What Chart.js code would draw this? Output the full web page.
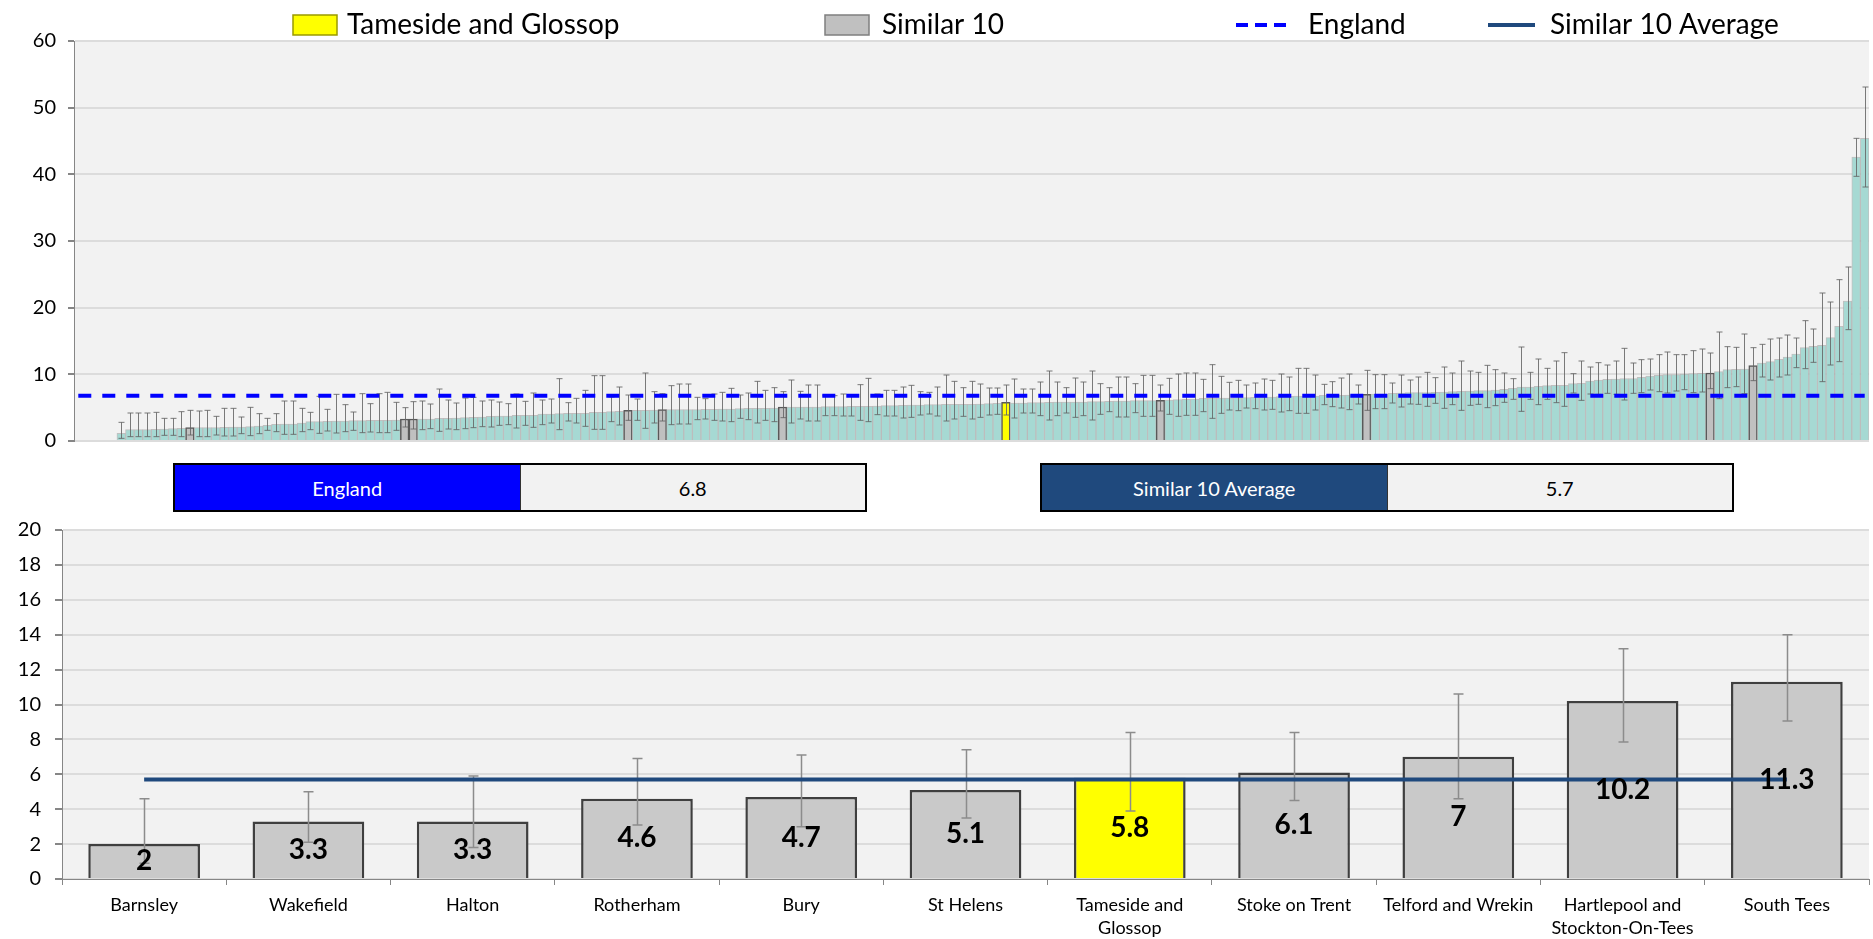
<!DOCTYPE html>
<html lang="en">

<head>
    <meta charset="UTF-8">
    <title>Tameside and Glossop - Similar 10 comparison</title>
    <style>
        body {
            margin: 0;
            background: #fff;
            font-family: Lato, "Open Sans", sans-serif;
        }

        #page {
            position: relative;
            width: 1873px;
            height: 939px;
            overflow: hidden;
        }

        #allWrap {
            position: absolute;
            left: 0;
            top: 0;
            width: 1873px;
            height: 455px;
        }

        #simWrap {
            position: absolute;
            left: 0;
            top: 515px;
            width: 1873px;
            height: 424px;
        }

        .stat {
            position: absolute;
            top: 463px;
            width: 694px;
            height: 49px;
            display: flex;
            border: 2px solid #000;
            box-sizing: border-box;
        }

        .stat div {
            flex: 1;
            display: flex;
            align-items: center;
            justify-content: center;
            font-size: 20px;
        }

        .stat .name {
            color: #fff;
        }

        .stat .num {
            background: #f2f2f2;
            color: #000;
            border-left: 1px solid #333;
        }
    </style>
    <script src="https://cdn.jsdelivr.net/npm/chart.js"></script>
</head>

<body>
    <div id="page">
        <div id="allWrap"><canvas id="allChart"></canvas></div>
        <div class="stat" style="left:173px">
            <div class="name" style="background:#0000ff">England</div>
            <div class="num" id="englandNum"></div>
        </div>
        <div class="stat" style="left:1040px">
            <div class="name" style="background:#1f497d">Similar 10 Average</div>
            <div class="num" id="avgNum"></div>
        </div>
        <div id="simWrap"><canvas id="simChart"></canvas></div>
    </div>

    <script>
        // all CCGs, sorted (first 5 have no value)
        const ccgValues = [
            null, null, null, null, null,
            1.15, 1.7, 1.7, 1.7, 1.75, 1.8, 1.85, 1.9, 2.0, 2.0,
            2.0, 2.0, 2.05, 2.1, 2.1, 2.15, 2.25, 2.35, 2.5, 2.55,
            2.55, 2.7, 2.9, 2.9, 2.95, 3.0, 3.0, 3.05, 3.05, 3.1,
            3.1, 3.1, 3.15, 3.3, 3.3, 3.3, 3.3, 3.4, 3.4, 3.45,
            3.5, 3.55, 3.6, 3.7, 3.75, 3.75, 3.85, 3.85, 3.85, 4.05,
            4.05, 4.1, 4.15, 4.15, 4.15, 4.3, 4.3, 4.4, 4.45, 4.6,
            4.6, 4.6, 4.65, 4.7, 4.7, 4.7, 4.7, 4.7, 4.75, 4.75,
            4.8, 4.8, 4.85, 4.9, 4.9, 4.9, 4.95, 5.1, 5.1, 5.1,
            5.1, 5.1, 5.15, 5.15, 5.15, 5.2, 5.2, 5.2, 5.25, 5.3,
            5.3, 5.35, 5.4, 5.4, 5.45, 5.45, 5.5, 5.5, 5.5, 5.5,
            5.55, 5.6, 5.65, 5.8, 5.7, 5.7, 5.75, 5.75, 5.8, 5.85,
            5.85, 5.85, 5.85, 5.9, 5.9, 5.95, 6.0, 6.0, 6.05, 6.05,
            6.05, 6.1, 6.15, 6.2, 6.25, 6.3, 6.4, 6.4, 6.45, 6.45,
            6.5, 6.5, 6.55, 6.55, 6.6, 6.65, 6.7, 6.75, 6.75, 6.75,
            6.85, 6.85, 6.85, 6.9, 6.9, 7.0, 7.05, 7.05, 7.15, 7.2,
            7.25, 7.25, 7.25, 7.3, 7.35, 7.4, 7.45, 7.5, 7.55, 7.55,
            7.65, 7.75, 7.9, 8.1, 8.1, 8.2, 8.3, 8.35, 8.35, 8.6,
            8.65, 9.0, 9.15, 9.25, 9.3, 9.35, 9.35, 9.55, 9.75, 9.85,
            9.95, 9.95, 10.05, 10.1, 10.15, 10.2, 10.4, 10.7, 10.75, 10.8,
            11.3, 11.7, 11.9, 12.25, 12.6, 13.05, 14.0, 14.2, 14.35, 15.5,
            17.2, 21.0, 42.6, 45.4
        ];
        const ccgLower = [
            null, null, null, null, null,
            0.4, 0.65, 0.65, 0.65, 0.65, 0.85, 0.85, 0.65, 0.9, 0.65,
            0.65, 0.9, 0.75, 0.75, 1.1, 0.8, 1.1, 1.6, 1.4, 1.0,
            1.0, 1.4, 1.7, 1.15, 1.5, 1.2, 1.4, 1.6, 1.25, 1.35,
            1.25, 1.25, 1.6, 2.1, 1.8, 1.7, 1.85, 1.45, 1.8, 1.7,
            1.85, 2.0, 2.15, 2.1, 2.35, 2.45, 1.95, 2.35, 2.05, 2.45,
            2.7, 1.7, 3.0, 2.7, 2.2, 1.75, 1.75, 2.9, 2.4, 3.1,
            3.1, 1.9, 2.7, 3.0, 2.45, 2.55, 2.55, 3.2, 3.3, 3.1,
            3.0, 2.9, 3.4, 3.2, 2.7, 3.1, 2.9, 3.5, 2.7, 3.3,
            3.0, 3.0, 3.8, 3.8, 3.75, 3.75, 3.1, 2.9, 3.95, 3.75,
            3.75, 3.45, 3.55, 3.9, 4.05, 3.75, 3.0, 3.3, 3.7, 3.3,
            3.55, 3.9, 4.0, 3.9, 3.45, 4.2, 4.2, 3.8, 3.15, 3.8,
            4.2, 3.55, 3.8, 3.15, 4.0, 4.4, 3.6, 3.6, 4.25, 3.7,
            3.7, 4.5, 4.0, 3.7, 3.85, 3.85, 4.4, 3.4, 4.15, 4.65,
            4.55, 4.95, 4.85, 4.65, 4.75, 4.35, 4.55, 4.15, 4.15, 4.65,
            5.45, 5.15, 4.95, 4.7, 5.55, 4.6, 4.85, 4.85, 5.7, 5.1,
            5.55, 5.5, 5.2, 5.65, 4.9, 5.45, 4.6, 5.35, 5.5, 5.0,
            5.3, 5.8, 6.25, 4.45, 6.25, 5.45, 6.25, 5.75, 5.2, 7.2,
            6.1, 7.05, 7.0, 7.15, 7.0, 6.15, 7.15, 7.25, 7.65, 7.4,
            7.2, 7.5, 7.7, 7.25, 7.35, 7.85, 6.35, 8.0, 8.15, 7.1,
            9.05, 9.6, 9.15, 9.6, 9.9, 11.0, 10.85, 11.8, 8.9, 11.4,
            11.9, 16.7, 39.7, 38.1
        ];
        const ccgUpper = [
            null, null, null, null, null,
            2.8, 4.2, 4.2, 4.2, 4.3, 3.4, 3.4, 4.4, 4.6, 4.5,
            4.6, 3.7, 4.9, 4.9, 3.6, 5.05, 4.1, 3.4, 4.1, 6.0,
            6.0, 4.9, 4.3, 6.7, 4.75, 7.0, 5.45, 4.35, 7.1, 5.6,
            7.1, 7.3, 5.8, 5.0, 5.9, 6.0, 5.55, 7.8, 6.15, 5.7,
            6.45, 6.55, 6.0, 6.15, 5.85, 5.6, 7.05, 5.95, 7.2, 6.15,
            6.3, 9.35, 5.75, 6.4, 7.6, 9.8, 9.8, 6.6, 8.1, 6.9,
            6.3, 10.2, 7.4, 7.1, 8.3, 8.55, 8.55, 6.55, 6.35, 7.05,
            7.3, 7.9, 6.9, 7.2, 8.95, 7.6, 8.0, 7.4, 9.15, 7.45,
            8.4, 8.4, 6.8, 6.8, 7.05, 6.9, 8.45, 9.4, 7.05, 7.6,
            7.6, 8.1, 8.35, 7.4, 7.3, 8.1, 9.9, 8.95, 8.0, 8.95,
            8.55, 7.95, 7.95, 8.4, 9.3, 7.8, 7.8, 8.85, 10.5, 8.85,
            8.0, 9.45, 8.85, 10.5, 8.6, 8.0, 9.6, 9.6, 8.6, 9.85,
            9.85, 8.4, 9.4, 10.05, 10.2, 10.2, 9.25, 11.45, 9.7, 8.8,
            9.1, 8.4, 8.7, 9.3, 9.1, 10.05, 9.6, 10.9, 10.9, 9.9,
            8.5, 8.9, 9.45, 10.05, 8.4, 10.6, 9.95, 9.95, 8.7, 9.9,
            9.15, 9.6, 10.3, 9.5, 11.1, 10.2, 12.0, 10.5, 10.3, 11.35,
            10.7, 10.2, 9.35, 14.1, 10.3, 12.3, 10.9, 12.0, 13.25, 10.1,
            12.0, 11.1, 11.75, 11.4, 12.0, 13.9, 11.7, 12.2, 12.3, 12.95,
            13.35, 12.95, 12.95, 13.55, 13.8, 13.2, 16.35, 14.15, 14.05, 16.05,
            14.0, 14.5, 15.3, 15.45, 15.9, 15.45, 18.05, 16.8, 22.2, 20.85,
            24.2, 26.1, 45.4, 53.1
        ];
        // where the Similar 10 and Tameside sit in the ranking above
        const similarPos = [13, 38, 39, 64, 68, 82, 126, 150, 190, 195];
        const tamesidePos = 108;

        const englandValue = 6.8;
        const similarAverage = 5.7;

        const similarNames = ['Barnsley', 'Wakefield', 'Halton', 'Rotherham', 'Bury', 'St Helens',
            ['Tameside and', 'Glossop'], 'Stoke on Trent', 'Telford and Wrekin',
            ['Hartlepool and', 'Stockton-On-Tees'], 'South Tees'];
        const similarValues = [2, 3.3, 3.3, 4.6, 4.7, 5.1, 5.8, 6.1, 7, 10.2, 11.3];
        const similarLower = [0.9, 2.1, 1.8, 3.1, 3.0, 3.5, 3.9, 4.5, 4.6, 7.85, 9.05];
        const similarUpper = [4.6, 5.0, 5.9, 6.9, 7.1, 7.4, 8.4, 8.4, 10.6, 13.2, 14.0];
        const tamesideName = 'Tameside and Glossop';

        const allTicks = [0, 10, 20, 30, 40, 50, 60];
        const simTicks = [0, 2, 4, 6, 8, 10, 12, 14, 16, 18, 20];

        document.getElementById('englandNum').textContent = englandValue;
        document.getElementById('avgNum').textContent = similarAverage;

        const FONT = 'Lato, "Open Sans", sans-serif';

        const plotBg = {
            id: 'plotBg',
            beforeDraw(chart) {
                const { ctx, chartArea: a } = chart;
                ctx.save();
                ctx.fillStyle = '#f2f2f2';
                ctx.fillRect(a.left, a.top, a.right - a.left, a.bottom - a.top);
                ctx.restore();
            }
        };

        function errorBars(lower, upper, color, width, cap) {
            return {
                id: 'errorBars',
                afterDatasetsDraw(chart) {
                    const { ctx } = chart;
                    const ys = chart.scales.y;
                    const meta = chart.getDatasetMeta(0);
                    ctx.save();
                    ctx.strokeStyle = color;
                    ctx.lineWidth = width;
                    meta.data.forEach((bar, i) => {
                        if (lower[i] == null || upper[i] == null) return;
                        const x = Math.round(bar.x) + 0.5;
                        const y1 = ys.getPixelForValue(lower[i]);
                        const y2 = ys.getPixelForValue(upper[i]);
                        ctx.beginPath();
                        ctx.moveTo(x, y1); ctx.lineTo(x, y2);
                        ctx.moveTo(x - cap, y1); ctx.lineTo(x + cap, y1);
                        ctx.moveTo(x - cap, y2); ctx.lineTo(x + cap, y2);
                        ctx.stroke();
                    });
                    ctx.restore();
                }
            };
        }

        function refLine(value, color, width, dash) {
            return {
                id: 'refLine',
                afterDatasetsDraw(chart) {
                    const { ctx } = chart;
                    const xs = chart.scales.x, ys = chart.scales.y;
                    const y = ys.getPixelForValue(value);
                    ctx.save();
                    ctx.strokeStyle = color;
                    ctx.lineWidth = width;
                    ctx.setLineDash(dash);
                    ctx.beginPath();
                    ctx.moveTo(xs.getPixelForValue(0), y);
                    ctx.lineTo(xs.getPixelForValue(chart.data.labels.length - 1), y);
                    ctx.stroke();
                    ctx.restore();
                }
            };
        }

        const topLegend = {
            id: 'topLegend',
            afterDraw(chart) {
                const { ctx } = chart;
                const y = 25;
                ctx.save();
                ctx.font = '28px ' + FONT;
                ctx.textBaseline = 'middle';

                ctx.fillStyle = '#ffff00';
                ctx.strokeStyle = '#9a9a00';
                ctx.lineWidth = 1.5;
                ctx.fillRect(293, 15, 44, 20);
                ctx.strokeRect(293, 15, 44, 20);
                ctx.fillStyle = '#000';
                ctx.fillText(tamesideName, 347, y);

                ctx.fillStyle = '#c0c0c0';
                ctx.strokeStyle = '#7f7f7f';
                ctx.fillRect(825, 15, 44, 20);
                ctx.strokeRect(825, 15, 44, 20);
                ctx.fillStyle = '#000';
                ctx.fillText('Similar 10', 882, y);

                ctx.strokeStyle = '#0000ff';
                ctx.lineWidth = 4;
                ctx.setLineDash([12, 7]);
                ctx.beginPath();
                ctx.moveTo(1236, y); ctx.lineTo(1292, y);
                ctx.stroke();
                ctx.setLineDash([]);
                ctx.fillText('England', 1308, y);

                ctx.strokeStyle = '#1f497d';
                ctx.beginPath();
                ctx.moveTo(1488, y); ctx.lineTo(1535, y);
                ctx.stroke();
                ctx.fillText('Similar 10 Average', 1550, y);
                ctx.restore();
            }
        };

        const barLabels = {
            id: 'barLabels',
            afterDatasetsDraw(chart) {
                const { ctx } = chart;
                const meta = chart.getDatasetMeta(0);
                ctx.save();
                ctx.font = 'bold 28px ' + FONT;
                ctx.fillStyle = '#000';
                ctx.textAlign = 'center';
                ctx.textBaseline = 'middle';
                meta.data.forEach((bar, i) => {
                    ctx.fillText(similarValues[i], bar.x, (bar.y + bar.base) / 2);
                });
                ctx.restore();
            }
        };

        const isHighlight = i => i === tamesidePos || similarPos.includes(i);

        new Chart(document.getElementById('allChart'), {
            type: 'bar',
            data: {
                labels: ccgValues.map((v, i) => i + 1),
                datasets: [{
                    data: ccgValues,
                    backgroundColor: c => c.dataIndex === tamesidePos ? '#ffff00'
                        : similarPos.includes(c.dataIndex) ? '#c0c0c0' : '#a6d9d3',
                    borderColor: c => isHighlight(c.dataIndex) ? '#595959' : 'rgba(175,175,175,0.75)',
                    borderWidth: c => isHighlight(c.dataIndex) ? 1.5 : 1,
                    categoryPercentage: 1,
                    barPercentage: 1
                }]
            },
            options: {
                responsive: true,
                maintainAspectRatio: false,
                animation: false,
                layout: { padding: { top: 41, bottom: 14, left: 0, right: 4 } },
                plugins: { legend: { display: false }, tooltip: { enabled: false } },
                scales: {
                    x: { display: false },
                    y: {
                        min: 0,
                        max: 60,
                        afterBuildTicks: s => { s.ticks = allTicks.map(v => ({ value: v })); },
                        afterFit: s => { s.width = 74; s.paddingTop = 0; s.paddingBottom = 0; },
                        ticks: { font: { family: FONT, size: 20 }, color: '#000', padding: 12 },
                        grid: { color: '#dcdcdc', lineWidth: 2, tickLength: 6, tickColor: '#868686' },
                        border: { color: '#868686', width: 1 }
                    }
                }
            },
            plugins: [plotBg,
                errorBars(ccgLower, ccgUpper, 'rgba(100,100,100,0.85)', 1, 3),
                refLine(englandValue, '#0000ff', 4, [13, 11]),
                topLegend]
        });

        new Chart(document.getElementById('simChart'), {
            type: 'bar',
            data: {
                labels: similarNames,
                datasets: [{
                    data: similarValues,
                    backgroundColor: similarValues.map((v, i) => i === 6 ? '#ffff00' : '#c9c9c9'),
                    borderColor: '#3f3f3f',
                    borderWidth: 2.5,
                    categoryPercentage: 1,
                    barPercentage: 0.68
                }]
            },
            options: {
                responsive: true,
                maintainAspectRatio: false,
                animation: false,
                layout: { padding: { top: 15, bottom: 0, left: 0, right: 4 } },
                plugins: { legend: { display: false }, tooltip: { enabled: false } },
                scales: {
                    x: {
                        afterFit: s => { s.height = 60; s.paddingLeft = 0; s.paddingRight = 0; },
                        ticks: {
                            font: { family: FONT, size: 18, lineHeight: 1.3 },
                            color: '#000',
                            padding: 8,
                            maxRotation: 0,
                            autoSkip: false
                        },
                        grid: { offset: true, drawOnChartArea: false, tickLength: 6, color: '#868686' },
                        border: { color: '#868686', width: 1 }
                    },
                    y: {
                        min: 0,
                        max: 20,
                        afterBuildTicks: s => { s.ticks = simTicks.map(v => ({ value: v })); },
                        afterFit: s => { s.width = 62; s.paddingTop = 0; s.paddingBottom = 0; },
                        ticks: { font: { family: FONT, size: 20 }, color: '#000', padding: 14 },
                        grid: { color: '#dcdcdc', lineWidth: 2, tickLength: 7, tickColor: '#868686' },
                        border: { color: '#868686', width: 1 }
                    }
                }
            },
            plugins: [plotBg,
                errorBars(similarLower, similarUpper, '#8c8c8c', 1.5, 5),
                refLine(similarAverage, '#1f497d', 4, []),
                barLabels]
        });
    </script>
</body>

</html>
